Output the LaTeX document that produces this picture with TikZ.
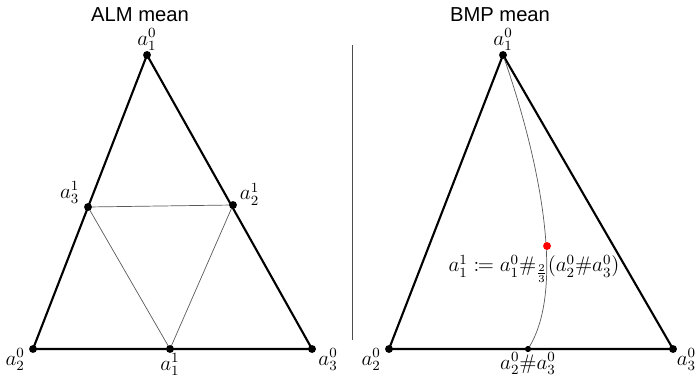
\documentclass[tikz,border=0pt]{standalone}
\usepackage{mathtools}
\usepackage{fontspec}
\setsansfont{Liberation Sans}
\usetikzlibrary{positioning}
\begin{document}
\begin{tikzpicture}[x=1cm, y=1cm, every node/.style={font=\large, inner sep=1pt}]
    \useasboundingbox (0,0) rectangle (14,7.56);
    \tikzset{
      side/.style={very thick, line cap=round},
      inner/.style={thin, black!65},
      dot/.style={circle, fill=black, inner sep=0pt, minimum size=4.5pt},
      title/.style={font=\sffamily\fontsize{11.5}{14}\selectfont}
    }

    % --- 1. 座標の定義 (ALM) ---
    \coordinate (A1) at (2.94, 6.46);   % a_1^0
    \coordinate (A2) at (0.66, 0.58);   % a_2^0
    \coordinate (A3) at (6.24, 0.58);   % a_3^0
    \coordinate (B3) at (1.76, 3.42);   % a_3^1
    \coordinate (B2) at (4.66, 3.46);   % a_2^1
    \coordinate (B1) at (3.40, 0.58);   % a_1^1

    % --- 座標の定義 (BMP) ---
    \coordinate (P1) at (10.06, 6.46);  % a_1^0
    \coordinate (P2) at (7.78, 0.58);   % a_2^0
    \coordinate (P3) at (13.46, 0.58);  % a_3^0
    \coordinate (PM) at (10.56, 0.58);  % a_2^0 # a_3^0
    \coordinate (PR) at (10.94, 2.64);  % 赤い点

    % 区切り線
    \coordinate (div_top) at (7.04, 6.66);
    \coordinate (div_bot) at (7.04, 0.76);

    % --- 2. タイトル ---
    \node[title] (alm) at (2.80, 7.26) {ALM mean};
    \node[title] (bmp) at (10.00, 7.26) {BMP mean};

    % --- 3. 線の描画 ---
    \draw[side] (A1) -- (A2) -- (A3) -- cycle;
    \draw[inner] (B3) -- (B2) -- (B1) -- cycle;

    \draw[black!70] (div_top) -- (div_bot);

    \draw[side] (P1) -- (P2) -- (P3) -- cycle;
    \draw[inner] (P1) .. controls (10.75, 4.5) and (11.35, 1.8) .. (PM);

    % --- 4. 点とラベル ---
    \node[dot] (a10) at (A1) {};
    \node[dot] (a20) at (A2) {};
    \node[dot] (a30) at (A3) {};
    \node[dot] (a31) at (B3) {};
    \node[dot] (a21) at (B2) {};
    \node[dot] (a11) at (B1) {};
    \node[above=-1pt of a10] (l10) {$a_1^0$};
    \node[left=1pt of a20, yshift=-6pt] (l20) {$a_2^0$};
    \node[right=0pt of a30, yshift=-6pt] (l30) {$a_3^0$};
    \node[above left=-1pt and 2pt of a31] (l31) {$a_3^1$};
    \node[above right=-3pt and 1pt of a21] (l21) {$a_2^1$};
    \node[below=-1pt of a11] (l11) {$a_1^1$};

    \node[dot] (p10) at (P1) {};
    \node[dot] (p20) at (P2) {};
    \node[dot] (p30) at (P3) {};
    \node[dot, minimum size=3.5pt] (pm) at (PM) {};
    \node[dot, fill=red] (pr) at (PR) {};
    \node[above=-1pt of p10] (m10) {$a_1^0$};
    \node[left=1pt of p20, yshift=-6pt] (m20) {$a_2^0$};
    \node[right=-1.5pt of p30, yshift=-6pt] (m30) {$a_3^0$};
    \node[below=-1pt of pm] (mm) {$a_2^0\#a_3^0$};
    \node (eq) at (10.68, 2.18) {$a_1^1 \coloneqq a_1^0\#_{\frac{2}{3}}(a_2^0\#a_3^0)$};

\end{tikzpicture}
\end{document}
